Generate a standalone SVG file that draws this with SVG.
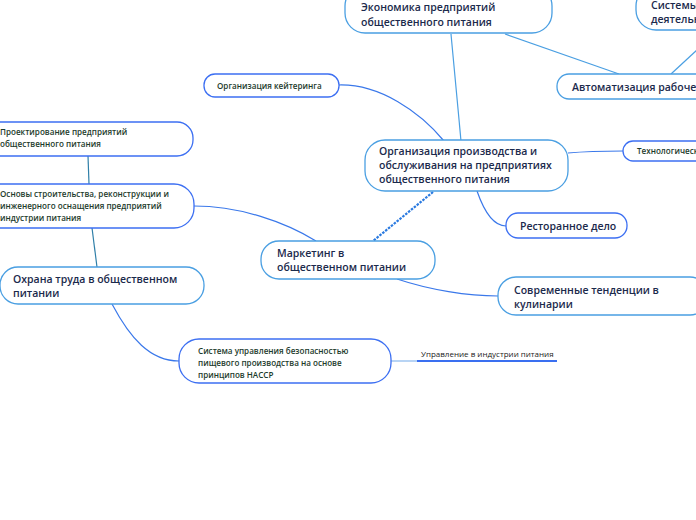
<svg xmlns="http://www.w3.org/2000/svg" width="696" height="520" viewBox="0 0 696 520">
<style>
.bg{fill:#ffffff}
.nl{fill:#ffffff;stroke:#4a9fe2;stroke-width:1.3}
.nb{fill:#ffffff;stroke:#3c6ff2;stroke-width:1.3}
.tb{font-family:"Open Sans","Liberation Sans",sans-serif;font-weight:600;font-size:10.5px;fill:#1b2a4c}
.ts{font-family:"Open Sans","Liberation Sans",sans-serif;font-weight:600;font-size:8.1px;fill:#1d3b2c}
.tp{font-family:"Open Sans","Liberation Sans",sans-serif;font-weight:400;font-size:8px;fill:#222222}
.c{fill:none;stroke:#3a78ea;stroke-width:1.2}
.cl{fill:none;stroke:#4a9fe2;stroke-width:1.2}
.ct{fill:none;stroke:#2f7fa8;stroke-width:1.2}
.cd{fill:none;stroke:#2a7ae0;stroke-width:2.2;stroke-dasharray:2.5 1.2}
.cf{fill:none;stroke:#b8d4f4;stroke-width:2}
.ul{fill:none;stroke:#3a6ff0;stroke-width:2.2}
</style>
<rect class="bg" x="0" y="0" width="696" height="520"/>
<g id="connectors">
<path class="cl" d="M451,34 L461,141"/>
<path class="cl" d="M505,34 L619,74"/>
<path class="cl" d="M671,74 L697,50"/>
<path class="c" d="M339,85 C380,84 420,112 444,141"/>
<path class="c" d="M568,153 C590,151 605,151 623,151"/>
<path class="c" d="M477,191 C485,214 494,226 506,226"/>
<path class="cd" d="M433,192 L373,241"/>
<path class="c" d="M194,206 C240,206 285,222 316,241"/>
<path class="ct" d="M88,156 L89,184"/>
<path class="ct" d="M92,228 L97,267"/>
<path class="c" d="M112,304 C130,338 150,361 179,361"/>
<path class="c" d="M397,279 C430,290 468,296 498,296"/>
<path class="cf" d="M391,361 L417,361"/>
</g>
<g id="n-ekonomika">
<rect class="nl" x="345" y="-14" width="207" height="47" rx="20"/>
<text class="tb" x="361" y="11">Экономика предприятий</text>
<text class="tb" x="361" y="26">общественного питания</text>
</g>
<g id="n-sistemy">
<rect class="nl" x="636" y="-14" width="90" height="44" rx="20"/>
<text class="tb" x="651" y="9">Системы</text>
<text class="tb" x="651" y="23">деятельности</text>
</g>
<g id="n-avtomatizaciya">
<rect class="nl" x="557" y="74" width="170" height="25" rx="12"/>
<text class="tb" x="572" y="91">Автоматизация рабочего места</text>
</g>
<g id="n-keitering">
<rect class="nb" x="204" y="74" width="135" height="23" rx="11"/>
<text class="ts" x="217" y="89">Организация кейтеринга</text>
</g>
<g id="n-proektirovanie">
<rect class="nb" x="-20" y="122" width="213" height="34" rx="16"/>
<text class="ts" x="0" y="135">Проектирование предприятий</text>
<text class="ts" x="0" y="147">общественного питания</text>
</g>
<g id="n-osnovy">
<rect class="nb" x="-20" y="184" width="214" height="44" rx="20"/>
<text class="ts" x="0" y="197">Основы строительства, реконструкции и</text>
<text class="ts" x="0" y="209">инженерного оснащения предприятий</text>
<text class="ts" x="0" y="221">индустрии питания</text>
</g>
<g id="n-ohrana">
<rect class="nl" x="0" y="267" width="204" height="37" rx="18"/>
<text class="tb" x="13" y="283">Охрана труда в общественном</text>
<text class="tb" x="13" y="297">питании</text>
</g>
<g id="n-marketing">
<rect class="nl" x="261" y="241" width="174" height="38" rx="18"/>
<text class="tb" x="277" y="257">Маркетинг в</text>
<text class="tb" x="277" y="271">общественном питании</text>
</g>
<g id="n-organizaciya">
<rect class="nl" x="365" y="140" width="203" height="51" rx="20"/>
<text class="tb" x="379" y="155">Организация производства и</text>
<text class="tb" x="379" y="169">обслуживания на предприятиях</text>
<text class="tb" x="379" y="183">общественного питания</text>
</g>
<g id="n-tehnolog">
<rect class="nb" x="623" y="141" width="100" height="20" rx="10"/>
<text class="ts" x="637" y="154">Технологическое</text>
</g>
<g id="n-restorannoe">
<rect class="nb" x="506" y="213" width="121" height="25" rx="12"/>
<text class="tb" x="520" y="230">Ресторанное дело</text>
</g>
<g id="n-sovremennye">
<rect class="nl" x="498" y="277" width="210" height="38" rx="18"/>
<text class="tb" x="514" y="294">Современные тенденции в</text>
<text class="tb" x="514" y="308">кулинарии</text>
</g>
<g id="n-haccp">
<rect class="nb" x="179" y="339" width="212" height="44" rx="20"/>
<text class="ts" x="198" y="354">Система управления безопасностью</text>
<text class="ts" x="198" y="366">пищевого производства на основе</text>
<text class="ts" x="198" y="378">принципов HACCP</text>
</g>
<g id="n-upravlenie">
<path class="ul" d="M417,361 L557,361"/>
<text class="tp" x="421" y="357">Управление в индустрии питания</text>
</g>
</svg>
